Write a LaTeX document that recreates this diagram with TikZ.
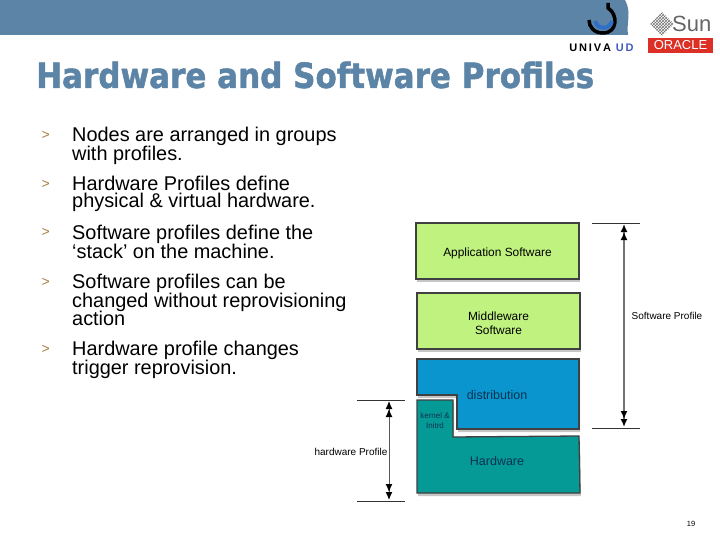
\documentclass[tikz,border=0pt]{standalone}
\usepackage{graphicx}
\usepackage{fontspec}
\setmainfont{Liberation Sans}
\newfontfamily\titlefont[BoldFeatures={FakeBold=1.5}]{DejaVu Sans}
\usetikzlibrary{arrows.meta,shadows,patterns}
\definecolor{bannerblue}{HTML}{5B84A6}
\definecolor{logoblue}{HTML}{2F6FC8}
\definecolor{softgreen}{HTML}{BFF27F}
\definecolor{distblue}{HTML}{0A95CE}
\definecolor{hwteal}{HTML}{069A96}
\definecolor{bulletcol}{HTML}{A87C45}
\definecolor{oraclered}{HTML}{DC2F26}
\definecolor{labelink}{HTML}{0B3350}
\tikzset{
	layerbox/.style={rectangle, draw=black!75, line width=1.3pt, drop shadow={opacity=0.45, shadow xshift=1pt, shadow yshift=-3pt}},
	softbox/.style={layerbox, fill=softgreen, minimum width=163pt, minimum height=56pt, align=center, font=\fontsize{11.9}{14}\selectfont},
	layerlabel/.style={font=\fontsize{12.5}{14}\selectfont, text=labelink},
	bullet/.style={font=\fontsize{14}{14}\selectfont, text=bulletcol, anchor=west},
	bodytext/.style={font=\fontsize{19.9}{18}\selectfont, anchor=north west, align=left, inner sep=0pt},
	sizelabel/.style={font=\fontsize{10}{11}\selectfont},
	limitline/.style={draw=black!80, line width=0.7pt},
	softspan/.style={draw=black!55, line width=2pt, {Latex[black,length=8pt,width=7pt]Latex[black,length=8pt,width=7pt]}-{Latex[black,length=8pt,width=7pt]Latex[black,length=8pt,width=7pt]}},
	hardspan/.style={draw=black!65, line width=1pt, {Latex[black,length=8pt,width=7pt]Latex[black,length=8pt,width=7pt]}-{Latex[black,length=8pt,width=7pt]Latex[black,length=8pt,width=7pt]}}
}
\begin{document}
\begin{tikzpicture}[x=1pt, y=-1pt, every node/.style={text centered}]
	\useasboundingbox (0, 0) rectangle (720, 540);
	% banner and logos
	\fill[bannerblue] (0, 0) -- (625, 0) .. controls (632, 12) and (626, 24) .. (628, 35) -- (0, 35) -- cycle;
	\draw[line width=3.5pt, black] (608, 3) -- (608, 8) .. controls (618, 14) and (618, 33) .. (603, 33) .. controls (594, 33) and (589, 27) .. (589, 20);
	\draw[line width=4pt, logoblue] (595, 21) .. controls (597, 30) and (610, 30) .. (612, 21);
	\node (univa) at (601.5, 47.5) {\fontsize{11}{12}\selectfont\bfseries U\,N\,I\,V\,A\, \textcolor{bannerblue!70!blue}{U\,D}};
	\fill[pattern=crosshatch, pattern color=black!55] (662, 12) -- (674, 24) -- (662, 36) -- (650, 24) -- cycle;
	\node[text=black!60, anchor=west, inner sep=0pt] (sun) at (672, 24) {\fontsize{22}{22}\selectfont Sun};
	\node[rectangle, fill=oraclered, text=white, minimum width=65pt, minimum height=15pt, inner sep=0pt] (oracle) at (680.5, 45.5) {\fontsize{13}{13}\selectfont ORACLE};
	% title
	\node[anchor=west, inner sep=0pt, text=bannerblue] (title) at (36, 75) {\scalebox{1}[1.12]{\titlefont\fontsize{31}{32}\selectfont\bfseries Hardware and Software Profiles}};
	% bullets
	\node[bullet] (b1) at (38, 135) {>};
	\node[bodytext] (t1) at (72, 127) {Nodes are arranged in groups\\[-1pt]with profiles.};
	\node[bullet] (b2) at (38, 184) {>};
	\node[bodytext] (t2) at (72, 176) {Hardware Profiles define\\[-1pt]physical \& virtual hardware.};
	\node[bullet] (b3) at (38, 232) {>};
	\node[bodytext] (t3) at (72, 225) {Software profiles define the\\[-1pt]‘stack’ on the machine.};
	\node[bullet] (b4) at (38, 282) {>};
	\node[bodytext] (t4) at (72, 274) {Software profiles can be\\[-1pt]changed without reprovisioning\\[-1pt]action};
	\node[bullet] (b5) at (38, 349) {>};
	\node[bodytext] (t5) at (72, 341) {Hardware profile changes\\[-1pt]trigger reprovision.};
	% layers
	\node[softbox] (app) at (497.5, 251) {\rule{0pt}{13pt}Application Software};
	\node[softbox] (middle) at (498.5, 321) {\rule{0pt}{14pt}Middleware\\Software};
	\draw[layerbox, fill=distblue] (417, 359) -- (579, 359) -- (579, 429) -- (457, 429) -- (457, 395) -- (417, 395) -- cycle;
	\draw[layerbox, fill=hwteal] (417, 400) -- (453, 400) -- (453, 437) -- (579, 436) -- (580, 493) -- (417, 493) -- cycle;
	\node[layerlabel] (dist) at (497, 395) {distribution};
	\node[layerlabel] (hw) at (497, 461) {Hardware};
	\node[font=\fontsize{8}{10}\selectfont, text=labelink, align=center] (kernel) at (435, 421) {kernel \&\\Initrd};
	% spans
	\coordinate (softtopl) at (592, 223);
	\coordinate (softtopr) at (640, 223);
	\coordinate (softbotl) at (592, 428);
	\coordinate (softbotr) at (640, 428);
	\coordinate (softtop) at (624, 224);
	\coordinate (softbot) at (624, 427);
	\coordinate (hardtopl) at (357, 400);
	\coordinate (hardtopr) at (405, 400);
	\coordinate (hardbotl) at (357, 501);
	\coordinate (hardbotr) at (405, 501);
	\coordinate (hardtop) at (389, 401);
	\coordinate (hardbot) at (389, 500);
	\draw[limitline] (softtopl) -- (softtopr);
	\draw[limitline] (softbotl) -- (softbotr);
	\draw[limitline] (hardtopl) -- (hardtopr);
	\draw[limitline] (hardbotl) -- (hardbotr);
	\draw[softspan] (softtop) -- (softbot);
	\draw[hardspan] (hardtop) -- (hardbot);
	\node[sizelabel] (softlabel) at (667, 316) {Software Profile};
	\node[sizelabel] (hardlabel) at (351, 452) {hardware Profile};
	% page number
	\node[font=\fontsize{7.5}{9}\selectfont] (page) at (691, 524) {19};
\end{tikzpicture}
\end{document}
